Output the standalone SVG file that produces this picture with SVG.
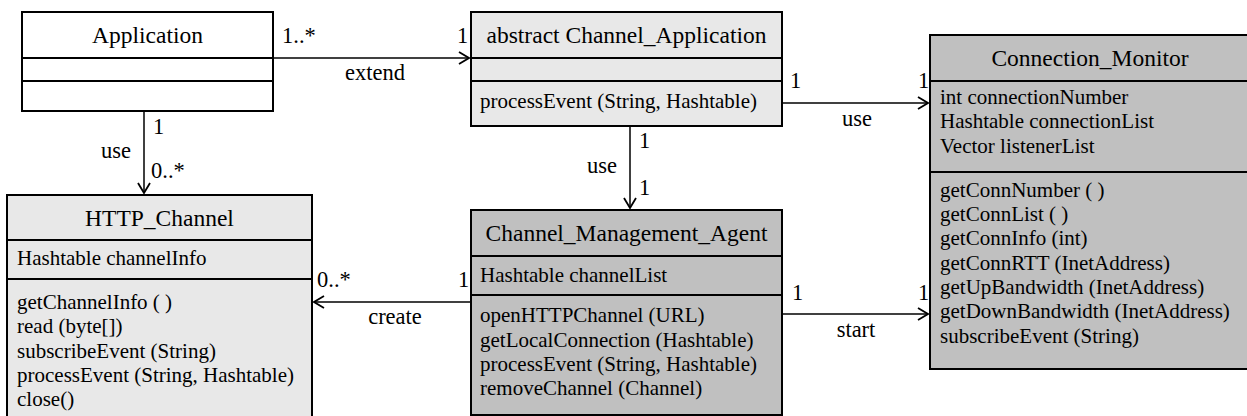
<svg xmlns="http://www.w3.org/2000/svg" width="1247" height="416" viewBox="0 0 1247 416">
<style>
.box{stroke:#000;stroke-width:2}
.div{stroke:#000;stroke-width:2}
text{font-family:'Liberation Serif','Times New Roman','DejaVu Serif',serif;fill:#000}
.t{font-size:23.5px}
.b{font-size:21px}
.l{font-size:22.5px}
.c{stroke:#000;stroke-width:1.5;fill:none}
</style>
<defs>
<marker id="arr" viewBox="0 0 12 14" refX="11" refY="7" markerWidth="12" markerHeight="14" markerUnits="userSpaceOnUse" orient="auto">
<path d="M1,1 L11,7 L1,13" fill="none" stroke="#000" stroke-width="1.8"/>
</marker>
</defs>
<rect width="1247" height="416" fill="#fff"/>
<g font-family="Liberation Serif, Times New Roman, serif">
<g id="Application">
<rect class="box" x="22" y="12" width="251" height="99" fill="#fff"/>
<line class="div" x1="22" y1="58" x2="273" y2="58"/>
<line class="div" x1="22" y1="81" x2="273" y2="81"/>
<text class="t" x="147.5" y="43" text-anchor="middle">Application</text>
</g>
<g id="Channel_Application">
<rect class="box" x="471" y="12" width="311" height="114" fill="#e8e8e8"/>
<line class="div" x1="471" y1="58" x2="782" y2="58"/>
<line class="div" x1="471" y1="81" x2="782" y2="81"/>
<text class="t" x="626.5" y="43" text-anchor="middle">abstract Channel_Application</text>
<text class="b" x="480" y="108">processEvent (String, Hashtable)</text>
</g>
<g id="Connection_Monitor">
<rect class="box" x="930" y="35" width="330" height="334" fill="#c0c0c0"/>
<line class="div" x1="930" y1="81" x2="1260" y2="81"/>
<line class="div" x1="930" y1="172" x2="1260" y2="172"/>
<text class="t" x="1090" y="66" text-anchor="middle">Connection_Monitor</text>
<text class="b" x="940" y="104">int connectionNumber</text>
<text class="b" x="940" y="128">Hashtable connectionList</text>
<text class="b" x="940" y="153">Vector listenerList</text>
<text class="b" x="940" y="197">getConnNumber ( )</text>
<text class="b" x="940" y="221">getConnList ( )</text>
<text class="b" x="940" y="245">getConnInfo (int)</text>
<text class="b" x="940" y="270">getConnRTT (InetAddress)</text>
<text class="b" x="940" y="294">getUpBandwidth (InetAddress)</text>
<text class="b" x="940" y="318">getDownBandwidth (InetAddress)</text>
<text class="b" x="940" y="343">subscribeEvent (String)</text>
</g>
<g id="HTTP_Channel">
<rect class="box" x="7" y="195" width="305" height="230" fill="#e8e8e8"/>
<line class="div" x1="7" y1="240" x2="312" y2="240"/>
<line class="div" x1="7" y1="279" x2="312" y2="279"/>
<text class="t" x="159.5" y="226" text-anchor="middle">HTTP_Channel</text>
<text class="b" x="17" y="265">Hashtable channelInfo</text>
<text class="b" x="17" y="309">getChannelInfo ( )</text>
<text class="b" x="17" y="333">read (byte[])</text>
<text class="b" x="17" y="358">subscribeEvent (String)</text>
<text class="b" x="17" y="382">processEvent (String, Hashtable)</text>
<text class="b" x="17" y="406">close()</text>
</g>
<g id="Channel_Management_Agent">
<rect class="box" x="471" y="210" width="311" height="205" fill="#c0c0c0"/>
<line class="div" x1="471" y1="256" x2="782" y2="256"/>
<line class="div" x1="471" y1="295" x2="782" y2="295"/>
<text class="t" x="626.5" y="241" text-anchor="middle">Channel_Management_Agent</text>
<text class="b" x="480" y="282">Hashtable channelList</text>
<text class="b" x="480" y="322">openHTTPChannel (URL)</text>
<text class="b" x="480" y="347">getLocalConnection (Hashtable)</text>
<text class="b" x="480" y="371">processEvent (String, Hashtable)</text>
<text class="b" x="480" y="395">removeChannel (Channel)</text>
</g>
<g id="connectors">
<line class="c" x1="273" y1="58" x2="469" y2="58" marker-end="url(#arr)"/>
<text class="l" x="282" y="43">1..*</text>
<text class="l" x="457" y="43">1</text>
<text class="l" x="375" y="80" text-anchor="middle">extend</text>
<line class="c" x1="144" y1="111" x2="144" y2="193" marker-end="url(#arr)"/>
<text class="l" x="153" y="134">1</text>
<text class="l" x="101" y="158">use</text>
<text class="l" x="151" y="178">0..*</text>
<line class="c" x1="782" y1="103" x2="928" y2="103" marker-end="url(#arr)"/>
<text class="l" x="790" y="88">1</text>
<text class="l" x="918" y="88">1</text>
<text class="l" x="857" y="126" text-anchor="middle">use</text>
<line class="c" x1="630" y1="126" x2="630" y2="208" marker-end="url(#arr)"/>
<text class="l" x="639" y="148">1</text>
<text class="l" x="639" y="195">1</text>
<text class="l" x="587" y="173">use</text>
<line class="c" x1="471" y1="302" x2="314" y2="302" marker-end="url(#arr)"/>
<text class="l" x="317" y="287">0..*</text>
<text class="l" x="458" y="287">1</text>
<text class="l" x="395" y="324" text-anchor="middle">create</text>
<line class="c" x1="782" y1="314" x2="928" y2="314" marker-end="url(#arr)"/>
<text class="l" x="792" y="300">1</text>
<text class="l" x="918" y="300">1</text>
<text class="l" x="856" y="337" text-anchor="middle">start</text>
</g>
</g>
</svg>
